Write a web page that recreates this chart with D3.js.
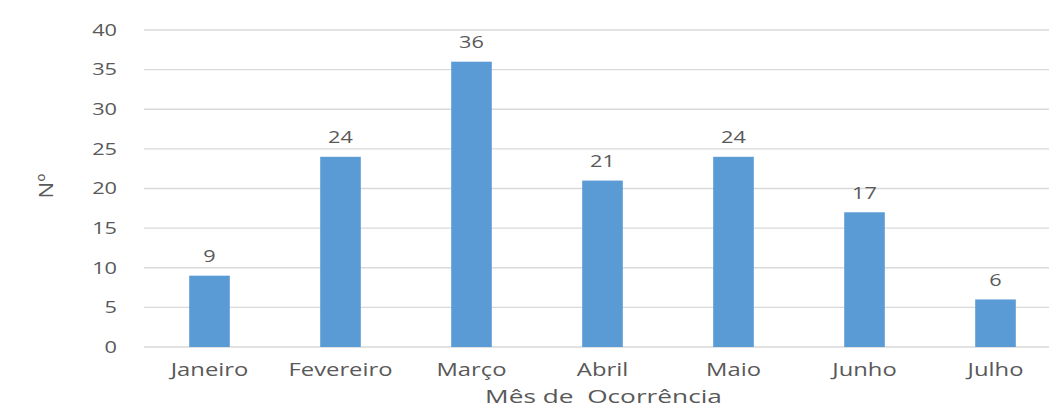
<!DOCTYPE html>
<html><head><meta charset="utf-8">
<script src="https://cdn.jsdelivr.net/npm/d3@7"></script>
<style>body{margin:0;background:#fff}text{font-family:"Open Sans",sans-serif;fill:#595959;white-space:pre}</style>
</head><body><svg id="c" width="1049" height="407"></svg>
<script>
const categories=["Janeiro","Fevereiro","Março","Abril","Maio","Junho","Julho"];
const values=[9,24,36,21,24,17,6];
const yTicks=[0,5,10,15,20,25,30,35,40];
const xTitle="Mês de  Ocorrência";
const yTitle="Nº";

const svg=d3.select("#c");
const x=d3.scaleBand().domain(categories).range([144,1061]).paddingInner(0.69).paddingOuter(0.345);
const y=d3.scaleLinear().domain([0,40]).range([347,30]);

svg.append("g").selectAll("line").data(yTicks).join("line")
 .attr("x1",144).attr("x2",1049).attr("y1",d=>y(d)).attr("y2",d=>y(d))
 .attr("stroke","#d9d9d9").attr("stroke-width",1.3);

svg.append("g").selectAll("rect").data(values).join("rect")
 .attr("x",(d,i)=>x(categories[i])).attr("width",x.bandwidth())
 .attr("y",d=>y(d)).attr("height",d=>y(0)-y(d)).attr("fill","#5b9bd5");

function txt(g,xx,yy,s,size,sx,anchor){
 g.append("text").attr("transform",`translate(${xx},${yy}) scale(${sx},1)`)
  .attr("text-anchor",anchor).attr("font-size",size).text(s);
}
const g=svg.append("g");
yTicks.forEach(t=>txt(g,117,y(t)+5.8,String(t),16,1.36,"end"));
categories.forEach(c=>txt(g,x(c)+x.bandwidth()/2,376,c,17.5,1.36,"middle"));
values.forEach((v,i)=>txt(g,x(categories[i])+x.bandwidth()/2,y(v)-13.5,String(v),16.3,1.33,"middle"));
txt(g,603.5,402.5,xTitle,17.5,1.5,"middle");
g.append("text").attr("transform","translate(53,186) rotate(-90) scale(1.1,1)")
 .attr("text-anchor","middle").attr("font-size",20).text(yTitle);
</script></body></html>
